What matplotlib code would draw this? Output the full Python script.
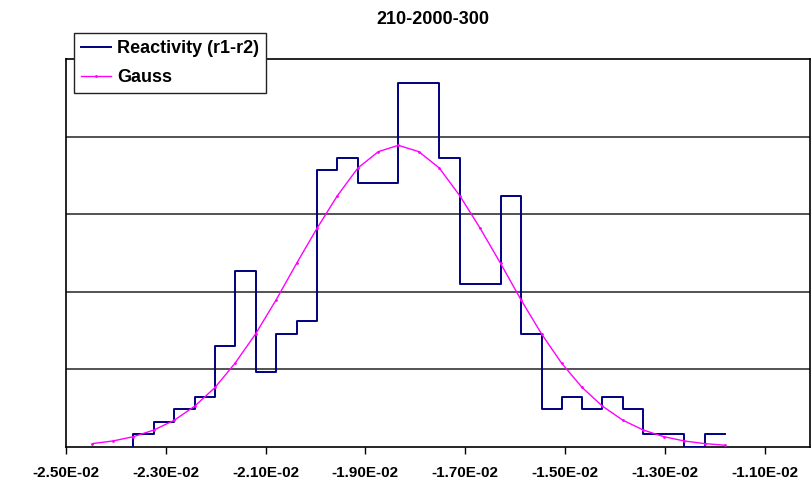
import matplotlib
matplotlib.use('Agg')
import matplotlib.pyplot as plt
from matplotlib.ticker import FuncFormatter

# bin edges (reactivity) shared by the histogram steps and the Gauss points
edges = [-0.02447, -0.02406, -0.02365, -0.02324, -0.02283, -0.02242, -0.02201,
         -0.02161, -0.02120, -0.02079, -0.02038, -0.01997, -0.01956, -0.01915,
         -0.01874, -0.01834, -0.01793, -0.01752, -0.01711, -0.01670, -0.01629,
         -0.01588, -0.01547, -0.01507, -0.01466, -0.01425, -0.01384, -0.01343,
         -0.01302, -0.01261, -0.01220, -0.01179]

# counts per bin (bin i spans edges[i]..edges[i+1]), 300 samples in total
counts = [0, 0, 1, 2, 3, 4, 8, 14, 6, 9, 10, 22, 23, 21, 21, 29, 29, 23, 13,
          13, 20, 9, 3, 4, 3, 4, 3, 1, 1, 0, 1]

# fitted Gauss curve read at each edge
gauss = [0.27, 0.48, 0.82, 1.35, 2.13, 3.25, 4.75, 6.68, 9.0, 11.7, 14.6,
         17.4, 20.0, 22.2, 23.5, 24.0, 23.5, 22.2, 20.0, 17.4, 14.6, 11.7,
         9.0, 6.68, 4.75, 3.25, 2.13, 1.35, 0.82, 0.48, 0.27, 0.14]

xticks = [-0.025, -0.023, -0.021, -0.019, -0.017, -0.015, -0.013, -0.011]
title = '210-2000-300'


def sci_label(v, pos):
    return '%.2E' % v


def main():
    plt.rcParams['font.family'] = ['Liberation Sans', 'DejaVu Sans']
    fig = plt.figure(figsize=(8.11, 4.80), dpi=100)
    ax = fig.add_axes([66 / 811, 33 / 480, 744 / 811, 388 / 480])

    # histogram as a step line starting from the baseline
    first = 2
    sx = [edges[first]] + edges[first:]
    sy = [0] + counts[first:] + [counts[-1]]
    ax.plot(sx, sy, drawstyle='steps-post', color='#000080', lw=1.4,
            label='Reactivity (r1-r2)', zorder=3)
    ax.plot(edges, gauss, color='#ff00ff', lw=1.0, marker='.', markersize=2,
            label='Gauss', zorder=4)

    ax.set_xlim(-0.025, -0.01009)
    ax.set_ylim(0, 30.87)
    ax.set_xticks(xticks)
    ax.xaxis.set_major_formatter(FuncFormatter(sci_label))
    ax.set_yticks([30.87 * i / 5 for i in range(1, 5)])
    ax.yaxis.grid(True, color='#444444', lw=1.3)
    ax.set_axisbelow(True)
    ax.tick_params(axis='y', left=False, labelleft=False)
    ax.tick_params(axis='x', direction='out', length=5, width=1, pad=9,
                   labelsize=11)
    for lab in ax.get_xticklabels():
        lab.set_fontweight('bold')
    for sp in ax.spines.values():
        sp.set_color('black')
        sp.set_linewidth(1.2)

    fig.text(433 / 811, 1 - 20 / 480, title, ha='center', va='center',
             fontsize=13, fontweight='bold')

    leg = ax.legend(loc='upper left', bbox_to_anchor=(74 / 811, 1 - 33 / 480),
                    bbox_transform=fig.transFigure, fancybox=False,
                    edgecolor='#222222', framealpha=1, borderaxespad=0,
                    prop={'weight': 'bold', 'size': 13}, handlelength=1.66,
                    handletextpad=0.35, labelspacing=0.68, borderpad=0.38)
    leg.get_frame().set_linewidth(1.0)
    leg.set_zorder(10)

    fig.savefig('out.png', dpi=100)


if __name__ == "__main__":
    main()
